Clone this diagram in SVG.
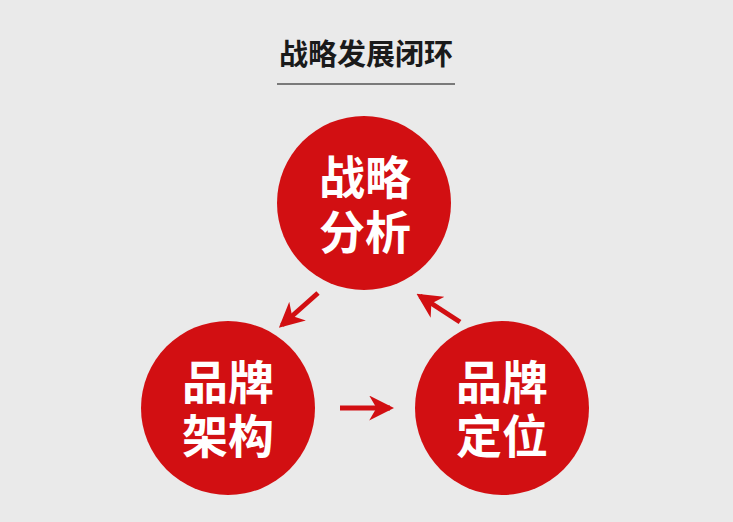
<svg xmlns="http://www.w3.org/2000/svg" width="733" height="522" viewBox="0 0 733 522">
<style>
.bg{fill:#eaeaea}
.node{fill:#d20f12}
.nt{fill:#ffffff;font-family:"Noto Sans CJK SC","Noto Sans",sans-serif;font-weight:700;font-size:46px;text-anchor:middle}
.title{fill:#1a1a1a;font-family:"Noto Sans CJK SC","Noto Sans",sans-serif;font-weight:700;font-size:29px;text-anchor:middle}
.conn{stroke:#d20f12;stroke-width:5;fill:none;marker-end:url(#ah)}
</style>
<defs>
<marker id="ah" viewBox="0 0 12 12" refX="10" refY="6" markerWidth="5" markerHeight="5" orient="auto" markerUnits="strokeWidth">
<path d="M0,0 L12,6 L0,12 L3.5,6 Z" fill="#d20f12"/>
</marker>
</defs>
<rect class="bg" x="0" y="0" width="733" height="522"/>
<g id="title">
<text class="title" x="366" y="65">战略发展闭环</text>
<line x1="277" y1="84" x2="455" y2="84" stroke="#555" stroke-width="1.6"/>
</g>
<g id="node-analysis">
<circle class="node" cx="364" cy="203" r="87"/>
<text class="nt"><tspan x="365" y="194">战略</tspan><tspan x="365" y="249">分析</tspan></text>
</g>
<g id="node-architecture">
<circle class="node" cx="228" cy="408" r="87"/>
<text class="nt"><tspan x="228" y="399">品牌</tspan><tspan x="228" y="453">架构</tspan></text>
</g>
<g id="node-positioning">
<circle class="node" cx="502" cy="408" r="87"/>
<text class="nt"><tspan x="502" y="399">品牌</tspan><tspan x="502" y="453">定位</tspan></text>
</g>
<g id="connectors">
<line class="conn" x1="318" y1="293" x2="282" y2="325"/>
<line class="conn" x1="340" y1="408" x2="390" y2="408"/>
<line class="conn" x1="460" y1="322" x2="420" y2="296"/>
</g>
</svg>
